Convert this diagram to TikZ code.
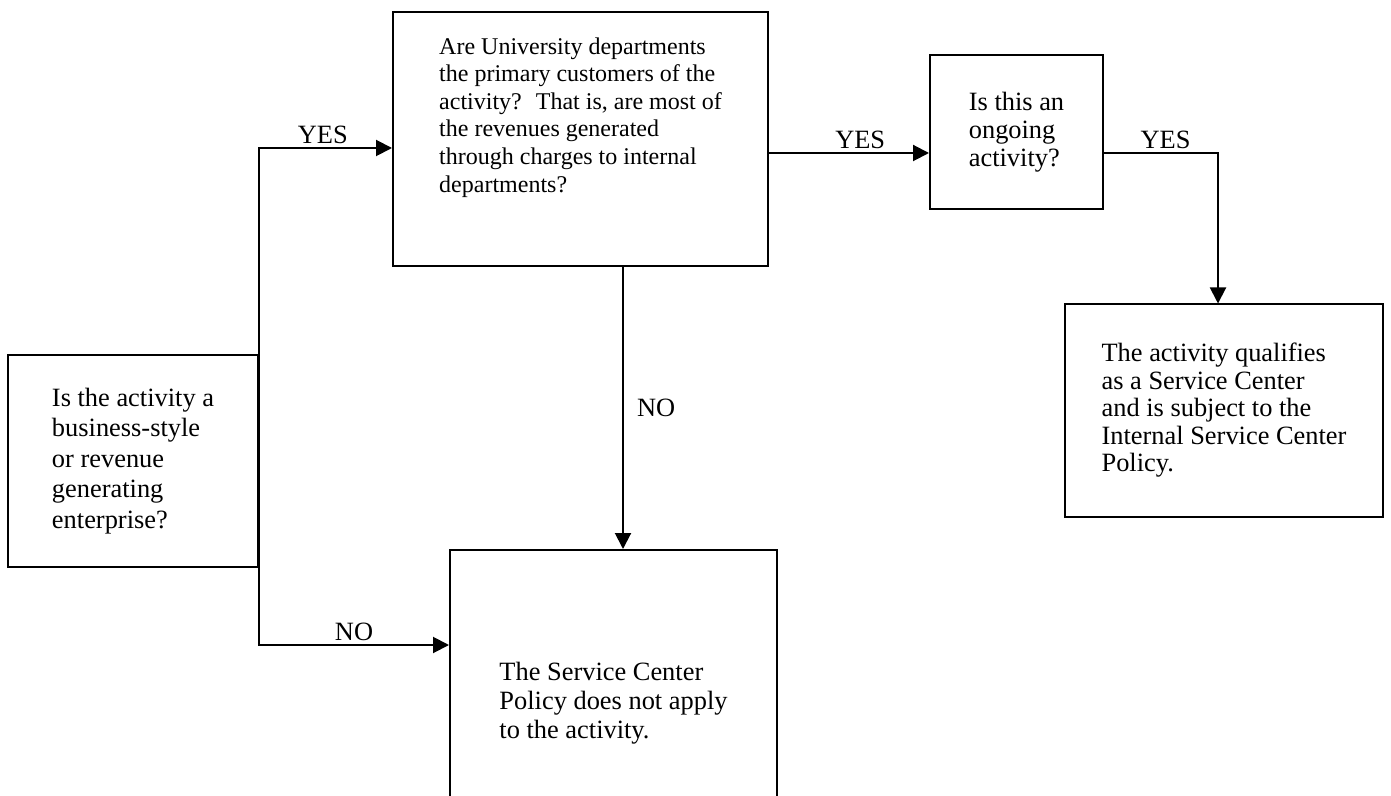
\documentclass[tikz,border=0pt]{standalone}
\usepackage{fontspec}
\setmainfont{Liberation Serif}
\usetikzlibrary{arrows.meta, positioning}

\begin{document}
\begin{tikzpicture}[
		x=0.5pt, y=-0.5pt,
		kotak/.style={draw, rectangle, line width=1pt, align=left, inner sep=0pt, font=\fontsize{13.2pt}{14pt}\selectfont},
		panah/.style={-{Triangle[length=8pt, width=8pt]}, line width=1pt},
		ket/.style={inner sep=1.5pt, font=\fontsize{13.2pt}{14pt}\selectfont}
	]
	\useasboundingbox (0,0) rectangle (1391,796);
	\clip (0,0) rectangle (1391,796);

	% Node Pertanyaan
	\node[kotak, minimum width=125pt, minimum height=106pt, font=\fontsize{13.2pt}{15.25pt}\selectfont] (usaha) at (133,461) {Is the activity a\\business-style\\or revenue\\generating\\enterprise?};
	\node[kotak, minimum width=187.5pt, minimum height=127pt, font=\fontsize{12pt}{13.8pt}\selectfont] (pelanggan) at (580.5,139.5) {Are University departments\\the primary customers of the\\activity?~ That is, are most of\\the revenues generated\\through charges to internal\\departments?\\[11pt]\mbox{}};
	\node[kotak, minimum width=86.5pt, minimum height=77pt] (rutin) at (1016.5,132) {Is this an\\ongoing\\activity?};

	% Node Hasil
	\node[kotak, minimum width=159pt, minimum height=106pt, font=\fontsize{13.2pt}{13.75pt}\selectfont] (layanan) at (1224,410.5) {The activity qualifies\\as a Service Center\\and is subject to the\\Internal Service Center\\Policy.};
	\node[kotak, minimum width=163.5pt, minimum height=153pt, font=\fontsize{13.2pt}{14.5pt}\selectfont] (tidak) at (613.5,703) {The Service Center\\Policy does not apply\\to the activity.};

	% Garis Penghubung
	\draw[panah] (usaha.east) |- node[ket, above, pos=0.74] {YES} ([yshift=-4.25pt]pelanggan.west);
	\draw[panah] (usaha.east) |- node[ket, above, pos=0.75] {NO} ([yshift=29pt]tidak.west);
	\draw[panah] ([xshift=21.25pt]pelanggan.south) -- node[ket, right=5pt] {NO} ([xshift=21.25pt]pelanggan.south |- tidak.north);
	\draw[panah] ([yshift=-6.75pt]pelanggan.east) -- node[ket, above, pos=0.57] {YES} ([yshift=-6.75pt]pelanggan.east -| rutin.west);
	\draw[panah] ([yshift=-10.5pt]rutin.east) -| node[ket, above, pos=0.27] {YES} ([xshift=-3pt]layanan.north);
\end{tikzpicture}
\end{document}
